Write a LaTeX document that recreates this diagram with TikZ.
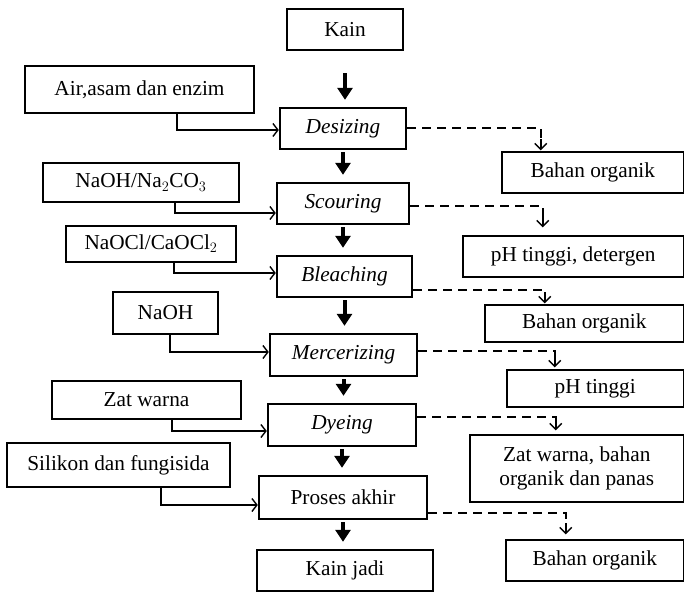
\documentclass[tikz,border=0pt]{standalone}
\usepackage{fontspec}
\setmainfont{Liberation Serif}
\usetikzlibrary{arrows.meta}
\tikzset{
  mainbox/.style={draw=black, line width=2.4pt, inner sep=0pt, align=center},
  sidebox/.style={draw=black, line width=1.2pt, inner sep=0pt, align=center},
  steparrow/.style={line width=4pt, -{Triangle[width=15pt,length=12pt]},
    shorten <=2pt, shorten >=7pt},
  feedline/.style={line width=1.8pt, -{Straight Barb[length=5pt,width=13pt,line width=1.4pt]}},
  wasteline/.style={line width=1.8pt, dash pattern=on 9pt off 6pt},
  wastetip/.style={line width=1.8pt, -{Straight Barb[length=6pt,width=12pt,line width=1.4pt]}}
}
\newcommand{\procbox}[7]{%
  \node[#5, minimum width=#3pt, minimum height=#4pt] (#6)
    at ({#1+#3/2},{#2+#4/2}) {#7};
}
\newcommand{\feedarrow}[4]{%
  \draw[feedline] ([xshift=#3pt]#1.south) |- ([yshift=#4pt]#2.west);
}
% garis putus-putus, ujung panah digambar utuh
\newcommand{\wastearrow}[5]{%
  \draw[wasteline, shorten >=#5pt+9pt] ([yshift=#3pt]#1.east) -| ([xshift=#4pt]#2.north);
  \draw[wastetip] ([xshift=#4pt, yshift=#5pt+11pt]#2.north) -- ([xshift=#4pt, yshift=#5pt]#2.north);
}
\begin{document}
\begin{tikzpicture}[x=1pt,y=-1pt, font=\fontsize{21.3}{24.5}\selectfont]
  \useasboundingbox (0,0) rectangle (684,593);

  % proses utama
  \procbox{287}{9}{116}{41}{mainbox}{kain}{Kain}
  \procbox{280}{108}{126}{41}{mainbox}{desizing}{\itshape Desizing}
  \procbox{277}{183}{132}{41}{mainbox}{scouring}{\itshape Scouring}
  \procbox{277}{256}{135}{41}{mainbox}{bleaching}{\itshape Bleaching}
  \procbox{270}{334}{147}{42}{mainbox}{mercerizing}{\itshape Mercerizing}
  \procbox{268}{404}{148}{42}{mainbox}{dyeing}{\itshape Dyeing}
  \procbox{259}{476}{168}{43}{mainbox}{proses}{Proses akhir}
  \procbox{257}{550}{176}{41}{mainbox}{kainjadi}{Kain jadi}

  % bahan masuk
  \procbox{25}{66}{229}{47}{sidebox}{air}{Air,asam dan enzim}
  \procbox{43}{163}{196}{39}{sidebox}{naohna}{NaOH/Na$_2$CO$_3$}
  \procbox{66}{226}{170}{36}{sidebox}{naocl}{NaOCl/CaOCl$_2$}
  \procbox{113}{292}{105}{42}{sidebox}{naoh}{NaOH}
  \procbox{52}{381}{189}{38}{sidebox}{zatwarna}{Zat warna}
  \procbox{7}{443}{223}{44}{sidebox}{silikon}{Silikon dan fungisida}

  % limbah
  \procbox{502}{152}{181.5}{41}{sidebox}{organikA}{Bahan organik}
  \procbox{463}{236}{220.5}{41}{sidebox}{phdet}{pH tinggi, detergen}
  \procbox{485}{305}{198.5}{37}{sidebox}{organikB}{Bahan organik}
  \procbox{507}{370}{176.5}{37}{sidebox}{phtinggi}{pH tinggi}
  \procbox{470}{435}{213.5}{67}{sidebox}{zatorganik}{Zat warna, bahan\\organik dan panas}
  \procbox{506}{540}{177.5}{41}{sidebox}{organikC}{Bahan organik}

  \draw[steparrow, shorten <=22pt] (kain.south) -- (kain.south |- desizing.north);
  \draw[steparrow] (desizing.south) -- (desizing.south |- scouring.north);
  \draw[steparrow] (scouring.south) -- (scouring.south |- bleaching.north);
  \draw[steparrow] (bleaching.south) -- (bleaching.south |- mercerizing.north);
  \draw[steparrow] (mercerizing.south) -- (mercerizing.south |- dyeing.north);
  \draw[steparrow] (dyeing.south) -- (dyeing.south |- proses.north);
  \draw[steparrow] (proses.south) -- (proses.south |- kainjadi.north);

  \feedarrow{air}{desizing}{37.5}{-1.5}
  \feedarrow{naohna}{scouring}{34}{-9.5}
  \feedarrow{naocl}{bleaching}{23}{3.5}
  \feedarrow{naoh}{mercerizing}{4.5}{3}
  \feedarrow{zatwarna}{dyeing}{25.5}{-6}
  \feedarrow{silikon}{proses}{42.5}{-7.5}

  \wastearrow{desizing}{organikA}{0.5}{-52}{1}
  \wastearrow{scouring}{phdet}{-2.5}{-30.5}{8}
  \wastearrow{bleaching}{organikB}{-13.5}{-39.5}{1}
  \wastearrow{mercerizing}{phtinggi}{4}{-40.5}{2}
  \wastearrow{dyeing}{zatorganik}{8}{-21}{4}
  \wastearrow{proses}{organikC}{-15.5}{-29}{5}
\end{tikzpicture}
\end{document}
